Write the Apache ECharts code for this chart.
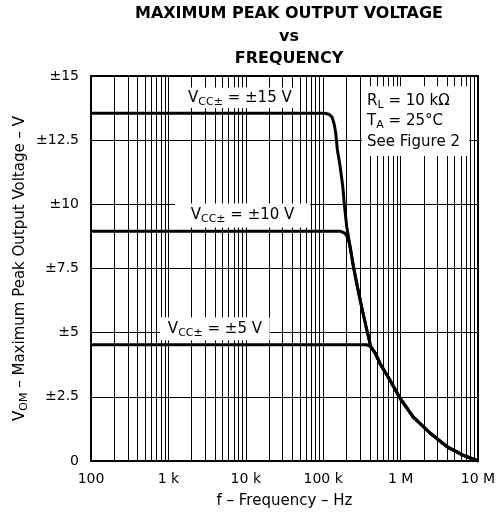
<!DOCTYPE html>
<html>
<head>
<meta charset="utf-8">
<title>Maximum Peak Output Voltage vs Frequency</title>
<script src="https://cdn.jsdelivr.net/npm/echarts@6/dist/echarts.min.js"></script>
<style>html,body{margin:0;padding:0;background:#fff;}</style>
</head>
<body>
<div id="main" style="width:497px;height:515px;"></div>
<script>
// axis ticks
var xTicks = [100, 1000, 10000, 100000, 1000000, 10000000];
var xTickLabels = ['100', '1 k', '10 k', '100 k', '1 M', '10 M'];
var yTicks = [0, 2.5, 5, 7.5, 10, 12.5, 15];
var yTickLabels = ['0', '±2.5', '±5', '±7.5', '±10', '±12.5', '±15'];

// curves (Hz, V)
var freq15 = [100, 105000, 120000, 130000, 138000, 145000, 152000, 165000, 179000, 188000, 201000, 222000, 245000, 276000, 314000, 357000, 411000, 470000, 542000, 730000, 982000, 1450000, 2400000, 4000000, 6400000, 10000000];
var volt15 = [13.55, 13.55, 13.5, 13.4, 13.15, 12.8, 12.15, 11.5, 10.7, 9.95, 9.15, 8.37, 7.6, 6.8, 6.0, 5.25, 4.46, 4.2, 3.8, 3.15, 2.45, 1.72, 1.09, 0.55, 0.23, 0];
var freq10 = [100, 168000, 185000, 200000, 212000, 222000, 245000, 276000, 314000, 357000, 411000, 470000, 542000, 730000, 982000, 1450000, 2400000, 4000000, 6400000, 10000000];
var volt10 = [8.95, 8.95, 8.9, 8.8, 8.6, 8.37, 7.6, 6.8, 6.0, 5.25, 4.46, 4.2, 3.8, 3.15, 2.45, 1.72, 1.09, 0.55, 0.23, 0];
var freq5 = [100, 360000, 395000, 430000, 470000, 542000, 730000, 982000, 1450000, 2400000, 4000000, 6400000, 10000000];
var volt5 = [4.53, 4.53, 4.49, 4.38, 4.2, 3.8, 3.15, 2.45, 1.72, 1.09, 0.55, 0.23, 0];

var font = '"DejaVu Sans", sans-serif';

function pairs(f, v) {
    return f.map(function (x, i) { return [x, v[i]]; });
}

// 2..9 lines inside every decade
var minorX = [];
for (var k = 2; k <= 6; k++) {
    for (var d = 2; d <= 9; d++) minorX.push({ xAxis: d * Math.pow(10, k) });
}

var richText = {
    m: { fontSize: 15, fontFamily: font, color: '#000' },
    s: { fontSize: 11, fontFamily: font, color: '#000', padding: [8, 0, 0, 0] }
};

var curveStyle = { color: '#000', width: 3 };

function curve(name, f, v) {
    return {
        name: name, type: 'line', z: 4, symbol: 'none', silent: true,
        lineStyle: curveStyle, data: pairs(f, v)
    };
}

var myChart = echarts.init(document.getElementById('main'));

var option = {
    animation: false,
    backgroundColor: '#fff',
    graphic: [{
        type: 'text', x: 289, y: 3, silent: true,
        style: {
            text: 'MAXIMUM PEAK OUTPUT VOLTAGE\nvs\nFREQUENCY',
            font: 'bold 16px "DejaVu Sans", sans-serif',
            fill: '#000', align: 'center', verticalAlign: 'top', lineHeight: 22.5
        }
    }],
    grid: {
        left: 91, right: 19, top: 76, bottom: 54,
        show: true, borderColor: '#000', borderWidth: 2,
        containLabel: false, outerBoundsMode: 'none'
    },
    xAxis: {
        type: 'log', logBase: 10, min: 100, max: 10000000,
        name: 'f – Frequency – Hz', nameLocation: 'middle', nameGap: 33,
        nameMoveOverlap: false,
        nameTextStyle: { fontFamily: font, fontSize: 15, color: '#000' },
        axisLine: { show: false },
        axisTick: { show: false },
        axisLabel: {
            fontFamily: font, fontSize: 14, color: '#000', margin: 11,
            showMinLabel: true, showMaxLabel: true,
            formatter: function (v) {
                var i = xTicks.indexOf(Math.pow(10, Math.round(Math.log10(v))));
                return i >= 0 ? xTickLabels[i] : '';
            }
        },
        splitLine: { show: true, lineStyle: { color: '#000', width: 1 } }
    },
    yAxis: {
        type: 'value', min: 0, max: 15, interval: 2.5,
        name: '{m|V}{s|OM}{m| – Maximum Peak Output Voltage – V}',
        nameLocation: 'middle', nameGap: 61,
        nameMoveOverlap: false,
        nameTextStyle: { fontFamily: font, fontSize: 15, color: '#000', rich: richText },
        axisLine: { show: false },
        axisTick: { show: false },
        axisLabel: {
            fontFamily: font, fontSize: 14, color: '#000', margin: 12,
            formatter: function (v) {
                var i = yTicks.indexOf(Math.round(v * 10) / 10);
                return i >= 0 ? yTickLabels[i] : '';
            }
        },
        splitLine: { show: true, lineStyle: { color: '#000', width: 1 } }
    },
    series: [
        {
            name: 'grid', type: 'line', data: [], silent: true,
            markLine: {
                z: 1, silent: true, symbol: ['none', 'none'], animation: false,
                label: { show: false },
                lineStyle: { color: '#000', width: 1, type: 'solid' },
                data: minorX
            }
        },
        {
            name: 'notes', type: 'line', data: [], silent: true,
            markArea: {
                z: 3, silent: true, animation: false,
                itemStyle: { color: '#fff', opacity: 1 },
                label: { show: true, position: 'inside', color: '#000', fontFamily: font, rich: richText },
                data: [
                    [{ name: '{m|V}{s|CC±}{m| = ±15 V}', coord: [1500, 14.55] }, { coord: [47000, 13.75] }],
                    [{ name: '{m|V}{s|CC±}{m| = ±10 V}', coord: [1220, 10.03] }, { coord: [67600, 9.1] }],
                    [{ name: '{m|V}{s|CC±}{m| = ±5 V}', coord: [780, 5.6] }, { coord: [20400, 4.7] }],
                    [{
                        name: '{m|R}{s|L}{m| = 10 kΩ}\n{m|T}{s|A}{m| = 25°C}\n{m|See Figure 2}',
                        coord: [318000, 14.6],
                        label: { position: 'insideLeft', distance: 5, align: 'left', lineHeight: 20.5 }
                    }, { coord: [7700000, 11.88] }]
                ]
            }
        },
        curve('±15 V', freq15, volt15),
        curve('±10 V', freq10, volt10),
        curve('±5 V', freq5, volt5)
    ]
};

myChart.setOption(option);
</script>
</body>
</html>
